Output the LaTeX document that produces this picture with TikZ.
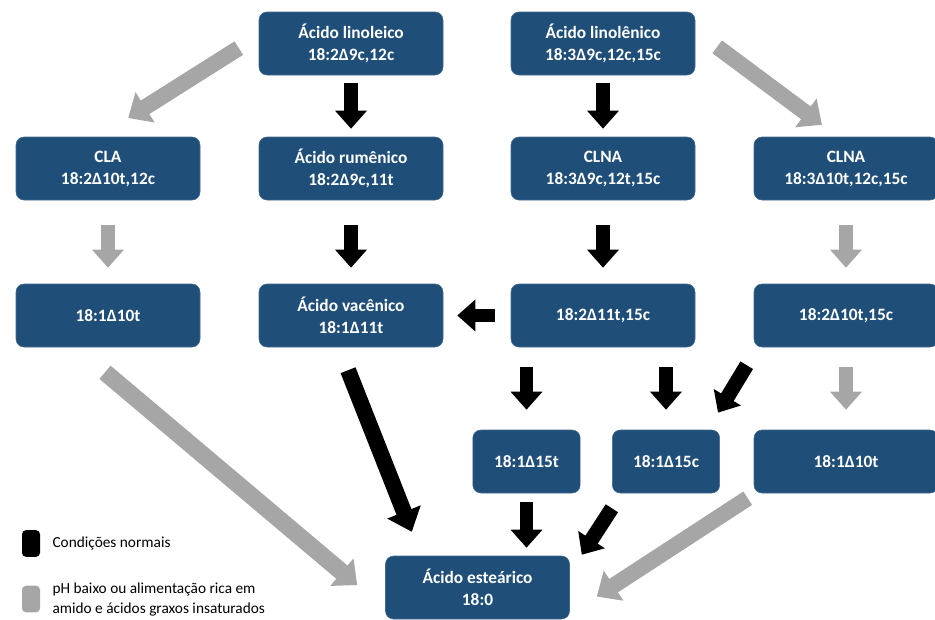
\documentclass[tikz,border=0pt]{standalone}
\usepackage{fontspec}
\setmainfont{Carlito}
\usepackage{tikz}
\usetikzlibrary{calc,arrows.meta,positioning}
\definecolor{acidBlue}{RGB}{31,78,121}
\definecolor{acidGray}{RGB}{166,166,166}

\begin{document}
\begin{tikzpicture}[x=0.75pt, y=-0.75pt,
  acid/.style={fill=acidBlue, draw=acidBlue!85!white, rounded corners=6pt, text=white,
    font=\bfseries\fontsize{13}{16.5}\selectfont, align=center, inner sep=0pt,
    minimum width=138pt, minimum height=47.25pt},
  acidsmall/.style={acid, minimum width=80.5pt},
  blk/.style={black, line width=10pt, -{Triangle[length=13.5pt, width=23pt]}},
  gry/.style={acidGray, line width=10pt, -{Triangle[length=13.5pt, width=23pt]}},
  diag/.style={line width=12pt, -{Triangle[length=15pt, width=26pt]}},
  legtext/.style={font=\fontsize{11.5}{15}\selectfont, align=left, inner sep=0pt, anchor=west}]
\useasboundingbox (0,0) rectangle (935,619);

% row 1
\node[acid] (lino) at (351,43.5) {Ácido linoleico\\18:2Δ9c,12c};
\node[acid] (linol) at (603,43.5) {Ácido linolênico\\18:3Δ9c,12c,15c};
% row 2
\node[acid] (cla) at (108,168.5) {CLA\\18:2Δ10t,12c};
\node[acid] (rum) at (351,168.5) {Ácido rumênico\\18:2Δ9c,11t};
\node[acid] (clna) at (603,168.5) {CLNA\\18:3Δ9c,12t,15c};
\node[acid] (clnb) at (846,168.5) {CLNA\\18:3Δ10t,12c,15c};
% row 3
\node[acid] (t10a) at (108,315.5) {18:1Δ10t};
\node[acid] (vac) at (351,315.5) {Ácido vacênico\\18:1Δ11t};
\node[acid] (dien) at (603,315.5) {18:2Δ11t,15c};
\node[acid] (dienb) at (846,315.5) {18:2Δ10t,15c};
% row 4
\node[acidsmall] (t15) at (526.5,461.5) {18:1Δ15t};
\node[acidsmall] (c15) at (666,461.5) {18:1Δ15c};
\node[acid] (t10b) at (846,461.5) {18:1Δ10t};
% end product
\node[acid] (este) at (477.5,587.5) {Ácido esteárico\\18:0};

% top arrows
\draw[gry, diag, shorten <=17.7pt, shorten >=17.9pt] ([yshift=6pt]lino.west) -- ([yshift=4.5pt]cla.north);
\draw[gry, diag, shorten <=20.5pt, shorten >=15pt] ([yshift=9.75pt]linol.east) -- ([xshift=-6pt]clnb.north);
\draw[blk, shorten <=6pt, shorten >=6pt] (lino) -- (rum);
\draw[blk, shorten <=6pt, shorten >=6pt] (linol) -- (clna);

% row 2 to row 3
\draw[gry, shorten <=18.75pt, shorten >=12pt] (cla) -- (t10a);
\draw[blk, shorten <=18.75pt, shorten >=12pt] (rum) -- (vac);
\draw[blk, shorten <=18.75pt, shorten >=12pt] (clna) -- (dien);
\draw[gry, shorten <=18.75pt, shorten >=12pt] (clnb) -- (dienb);
\draw[blk, shorten <=12pt, shorten >=10.5pt] (dien) -- (vac);

% row 3 to row 4
\draw[blk, shorten <=15pt, shorten >=15pt] (t15.north |- dien.south) -- (t15.north);
\draw[blk, shorten <=15pt, shorten >=15pt] (c15.north |- dien.south) -- (c15.north);
\draw[blk, line width=11pt, shorten <=15.75pt, shorten >=15pt] ([xshift=2.9pt]dienb.south west) -- ([xshift=-9.2pt]c15.north east);
\draw[gry, shorten <=15pt, shorten >=15pt] (dienb) -- (t10b);

% into stearic acid
\draw[gry, diag, line width=13pt, shorten <=29.1pt, shorten >=27.5pt] ([xshift=-24.5pt]t10a.south) -- ([yshift=-15.9pt]este.west);
\draw[blk, line width=12pt, -{Triangle[length=16pt, width=26pt]}, shorten <=18.5pt, shorten >=19.3pt] ([xshift=-9pt]vac.south) -- ([xshift=27pt]este.north west);
\draw[blk, shorten <=6.75pt, shorten >=6pt] (t15.south) -- (t15.south |- este.north);
\draw[blk, line width=11pt, shorten <=13.4pt, shorten >=0.9pt] ([xshift=-33.3pt]c15.south) -- ([xshift=8.5pt]este.north east);
\draw[gry, diag, shorten <=6.8pt, shorten >=24.2pt] ([xshift=1.2pt]t10b.south west) -- ([yshift=-20pt]este.east);

% legend
\node[fill=black, rounded corners=3pt, minimum width=13.5pt, minimum height=20pt, inner sep=0pt] (keyblk) at (31,543.5) {};
\node[legtext, right=9pt of keyblk] (keyblktxt) {Condições normais};
\node[fill=acidGray, rounded corners=3pt, minimum width=13.5pt, minimum height=20pt, inner sep=0pt] (keygry) at (31,599) {};
\node[legtext, right=9pt of keygry] (keygrytxt) {pH baixo ou alimentação rica em\\amido e ácidos graxos insaturados};
\end{tikzpicture}
\end{document}
